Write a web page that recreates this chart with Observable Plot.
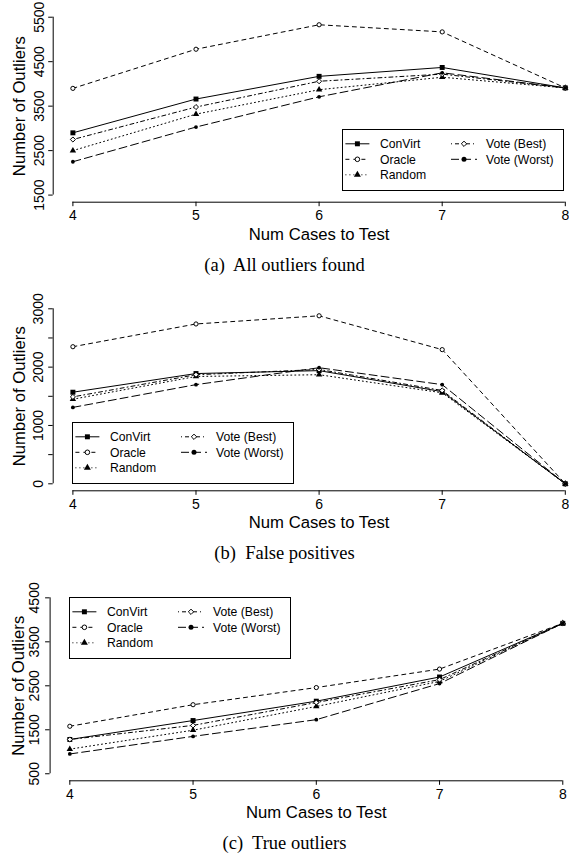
<!DOCTYPE html>
<html><head><meta charset="utf-8">
<script src="https://cdn.jsdelivr.net/npm/d3@7"></script>
<script src="https://cdn.jsdelivr.net/npm/@observablehq/plot@0.6"></script>
<style>
html,body{margin:0;padding:0;background:#fff;overflow:hidden}
#root{position:relative;width:569px;height:855px;overflow:hidden;background:#fff;font-family:"Liberation Sans",Arial,Helvetica,sans-serif}
.panel{position:absolute;left:0}
.caption{position:absolute;left:0;width:569px;text-align:center;font-family:"Liberation Serif","Times New Roman",serif;font-size:18.5px;line-height:20px;white-space:pre;color:#000}
.legend{position:absolute;overflow:visible}
</style></head><body><div id="root"></div>
<script>
// ---- data ----
const numCases = [4, 5, 6, 7, 8];
const seriesNames = ["ConVirt", "Oracle", "Random", "Vote (Best)", "Vote (Worst)"];
// (a) All outliers found
const allConVirt   = [2900, 3660, 4170, 4370, 3910];
const allOracle    = [3900, 4780, 5330, 5170, 3910];
const allRandom    = [2500, 3320, 3870, 4150, 3910];
const allVoteBest  = [2750, 3480, 4060, 4220, 3910];
const allVoteWorst = [2250, 3030, 3710, 4250, 3910];
// (b) False positives
const fpConVirt   = [1570, 1890, 1940, 1580, 0];
const fpOracle    = [2350, 2740, 2880, 2300, 0];
const fpRandom    = [1450, 1840, 1870, 1560, 0];
const fpVoteBest  = [1490, 1870, 1960, 1600, 0];
const fpVoteWorst = [1310, 1700, 1990, 1700, 0];
// (c) True outliers
const trueConVirt   = [1280, 1710, 2150, 2700, 3920];
const trueOracle    = [1580, 2070, 2460, 2880, 3920];
const trueRandom    = [1060, 1490, 2030, 2600, 3920];
const trueVoteBest  = [1280, 1600, 2120, 2640, 3920];
const trueVoteWorst = [950, 1350, 1730, 2550, 3920];
// ticks / labels
const yTicksA = [1500, 2500, 3500, 4500, 5500];
const yLabelsA = [1500, 2500, 3500, 4500, 5500];
const yTicksB = [0, 500, 1000, 1500, 2000, 2500, 3000];
const yLabelsB = [0, 1000, 2000, 3000];
const yTicksC = [500, 1500, 2500, 3500, 4500];
const yLabelsC = [500, 1500, 2500, 3500, 4500];
const xTitle = "Num Cases to Test";
const yTitle = "Number of Outliers";
const captions = ["(a)  All outliers found", "(b)  False positives", "(c)  True outliers"];

// ---- styles ----
const styles = [
  {dash: null, symbol: "square", fill: "black", r: 2.8, lr: 2.8},
  {dash: "4,4", symbol: "circle", fill: "white", r: 2.1, lr: 2.3},
  {dash: "1,3", symbol: "triangle", fill: "black", r: 2.4, lr: 2.6},
  {dash: "1,3,4,3", symbol: "diamond2", fill: "white", r: 2.3, lr: 2.4},
  {dash: "8,4", symbol: "circle", fill: "black", r: 1.9, lr: 2.5}
];
const FONT = "'Liberation Sans', Arial, Helvetica, sans-serif";
const root = document.getElementById("root");

function makePanel(cfg) {
  const xMin = 3.84, xMax = 8.16;
  const [yMin, yMax] = cfg.yDomain;
  const marks = [];
  // axis lines
  marks.push(Plot.ruleY([yMin], {x1: numCases[0], x2: numCases[numCases.length - 1], stroke: "black", strokeWidth: 1}));
  marks.push(Plot.ruleX([xMin], {y1: cfg.yTicks[0], y2: cfg.yTicks[cfg.yTicks.length - 1], stroke: "black", strokeWidth: 1}));
  marks.push(Plot.axisX(numCases, {tickSize: 4.5, tickPadding: 3.5, fontSize: 14, tickFormat: d => String(d), label: null, stroke: "black", fill: "black"}));
  marks.push(Plot.axisY(cfg.yTicks, {tickSize: 4.5, tickFormat: () => "", label: null, stroke: "black"}));
  marks.push(Plot.text(cfg.yLabels, {x: xMin, y: d => d, text: d => String(d), rotate: -90, textAnchor: "middle", lineAnchor: "bottom", dx: cfg.labelDx, fontSize: 14, fill: "black"}));
  marks.push(Plot.text([yTitle], {x: xMin, y: (yMin + yMax) / 2, text: d => d, rotate: -90, textAnchor: "middle", lineAnchor: "bottom", dx: cfg.titleDx, fontSize: 16.7, fill: "black"}));
  marks.push(Plot.text([xTitle], {x: (xMin + xMax) / 2, y: yMin, text: d => d, textAnchor: "middle", lineAnchor: "bottom", dy: 37.5, fontSize: 16.7, fill: "black"}));
  cfg.values.forEach((vals, i) => {
    const st = styles[i];
    const data = numCases.map((x, j) => ({x, y: vals[j]}));
    marks.push(Plot.line(data, {x: "x", y: "y", stroke: "black", strokeWidth: 1, strokeDasharray: st.dash || undefined}));
    marks.push(Plot.dot(data, {x: "x", y: "y", symbol: st.symbol, r: st.r, fill: st.fill, stroke: st.fill === "black" ? "none" : "black", strokeWidth: 1}));
  });
  const svg = Plot.plot({
    width: 569, height: cfg.height,
    marginTop: cfg.marginTop, marginBottom: cfg.height - cfg.frameBottom, marginLeft: cfg.marginLeft, marginRight: 0,
    x: {domain: [xMin, xMax], range: cfg.xRange, label: null},
    y: {domain: cfg.yDomain, label: null},
    style: {fontFamily: FONT, background: "white", color: "black"},
    marks
  });
  const wrap = document.createElement("div");
  wrap.className = "panel";
  wrap.style.top = cfg.top + "px";
  wrap.appendChild(svg);
  root.appendChild(wrap);

  const cap = document.createElement("div");
  cap.className = "caption";
  cap.style.top = cfg.captionTop + "px";
  cap.textContent = cfg.caption;
  root.appendChild(cap);

  // legend
  const W = 221, H = 61;
  const lg = d3.create("svg").attr("class", "legend").attr("width", W + 1).attr("height", H + 1)
    .style("left", cfg.legend[0] + "px").style("top", cfg.legend[1] + "px");
  lg.append("rect").attr("x", 0.5).attr("y", 0.5).attr("width", W).attr("height", H).attr("fill", "white").attr("stroke", "black");
  const rows = [14.8, 30.3, 45.8];
  const cols = [{s0: 3.4, s1: 27.4, m: 15.4, t: 38}, {s0: 109, s1: 135, m: 122, t: 144}];
  const symMap = {square: d3.symbolSquare, circle: d3.symbolCircle, triangle: d3.symbolTriangle, diamond2: d3.symbolDiamond2};
  seriesNames.forEach((name, i) => {
    const st = styles[i];
    const c = cols[i < 3 ? 0 : 1];
    const y = rows[i < 3 ? i : i - 3];
    lg.append("line").attr("x1", c.s0).attr("x2", c.s1).attr("y1", y).attr("y2", y)
      .attr("stroke", "black").attr("stroke-width", 1).attr("stroke-dasharray", st.dash);
    lg.append("path").attr("transform", `translate(${c.m},${y})`)
      .attr("d", d3.symbol(symMap[st.symbol], st.lr * st.lr * Math.PI)())
      .attr("fill", st.fill).attr("stroke", st.fill === "black" ? "none" : "black").attr("stroke-width", 1);
    lg.append("text").attr("x", c.t).attr("y", y).attr("dy", "0.36em").attr("font-size", 12.2)
      .attr("font-family", FONT).attr("fill", "black").text(name);
  });
  root.appendChild(lg.node());
}

makePanel({
  top: 0, height: 252, marginTop: 9.6, frameBottom: 201.7, marginLeft: 52.7, xRange: [52.7, 584.5],
  yDomain: [1340, 5660], yTicks: yTicksA, yLabels: yLabelsA, labelDx: -9.4, titleDx: -28.7,
  values: [allConVirt, allOracle, allRandom, allVoteBest, allVoteWorst],
  caption: captions[0], captionTop: 254.5, legend: [341.5, 128.5]
});
makePanel({
  top: 280, height: 262, marginTop: 21.3, frameBottom: 210.3, marginLeft: 52.7, xRange: [52.7, 584.5],
  yDomain: [-120, 3120], yTicks: yTicksB, yLabels: yLabelsB, labelDx: -10, titleDx: -28.7,
  values: [fpConVirt, fpOracle, fpRandom, fpVoteBest, fpVoteWorst],
  caption: captions[1], captionTop: 543, legend: [72.2, 421.8]
});
makePanel({
  top: 570, height: 262, marginTop: 20.3, frameBottom: 210.3, marginLeft: 49.6, xRange: [49.6, 582.0],
  yDomain: [340, 4660], yTicks: yTicksC, yLabels: yLabelsC, labelDx: -11, titleDx: -26,
  values: [trueConVirt, trueOracle, trueRandom, trueVoteBest, trueVoteWorst],
  caption: captions[2], captionTop: 833, legend: [68.8, 596.8]
});
</script></body></html>
